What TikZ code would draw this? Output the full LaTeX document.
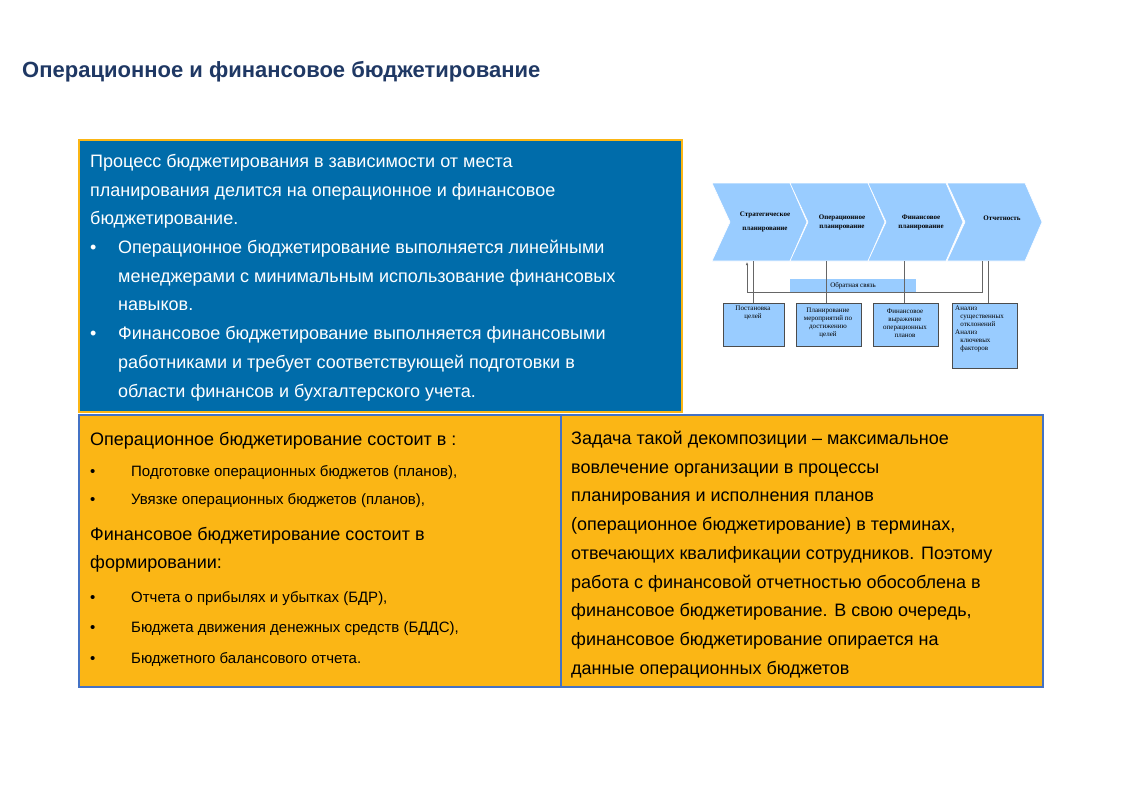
\documentclass[tikz,border=0pt]{standalone}
\usetikzlibrary{arrows.meta}
\usepackage{fontspec}
\setmainfont{Liberation Sans}
\newfontfamily\serifsm{Liberation Serif}
\definecolor{bluebox}{RGB}{0,108,170}
\definecolor{orangebox}{RGB}{251,182,21}
\definecolor{titleblue}{RGB}{31,56,100}
\definecolor{bordblue}{RGB}{68,114,196}
\definecolor{chev}{RGB}{153,204,255}
\tikzset{
  ln/.style={anchor=base west, inner sep=0pt, font=\fontsize{18}{20}\selectfont},
  lnw/.style={ln, text=white},
  sm/.style={anchor=base west, inner sep=0pt, font=\fontsize{15}{17}\selectfont},
  chevron/.style={fill=chev, draw=white, line width=0.6pt},
  sbox/.style={fill=chev, draw=black!70, line width=0.5pt},
  stxt/.style={font=\serifsm\fontsize{7}{8}\selectfont, align=center, inner sep=0pt},
  ctxt/.style={font=\serifsm\bfseries\fontsize{7}{9}\selectfont, align=center, inner sep=0pt},
  conn/.style={draw=black!60, line width=0.6pt}
}
\begin{document}
\begin{tikzpicture}[x=1pt,y=-1pt]
\useasboundingbox (0,0) rectangle (1122,793);
\fill[white] (0,0) rectangle (1122,793);
\node[anchor=base west, inner sep=0pt, text=titleblue, font=\bfseries\fontsize{22}{24}\selectfont] (title) at (22,77) {Операционное и финансовое бюджетирование};
% boxes
\draw[fill=bluebox, draw=orangebox, line width=1.5pt] (79,140) rectangle (682,412);
\draw[fill=orangebox, draw=bordblue, line width=1.5pt] (79,415) rectangle (561,687);
\draw[fill=orangebox, draw=bordblue, line width=1.5pt] (561,415) rectangle (1043,687);
% blue text
\node[lnw] (b1) at (90,167) {Процесс бюджетирования в зависимости от места};
\node[lnw] (b2) at (90,196) {планирования делится на операционное и финансовое};
\node[lnw] (b3) at (90,224) {бюджетирование.};
\node[lnw] (b4a) at (90,253) {•};
\node[lnw] (b4) at (118,253) {Операционное бюджетирование выполняется линейными};
\node[lnw] (b5) at (118,282) {менеджерами с минимальным использование финансовых};
\node[lnw] (b6) at (118,310) {навыков.};
\node[lnw] (b7a) at (90,339) {•};
\node[lnw] (b7) at (118,339) {Финансовое бюджетирование выполняется финансовыми};
\node[lnw] (b8) at (118,368) {работниками и требует соответствующей подготовки в};
\node[lnw] (b9) at (118,397) {области финансов и бухгалтерского учета.};
% left bottom
\node[ln] (l1) at (90,445) {Операционное бюджетирование состоит в :};
\node[sm] (l2a) at (90,476) {•};
\node[sm] (l2) at (131,476) {Подготовке операционных бюджетов (планов),};
\node[sm] (l3a) at (90,504) {•};
\node[sm] (l3) at (131,504) {Увязке операционных бюджетов (планов),};
\node[ln] (l4) at (90,540) {Финансовое бюджетирование состоит в};
\node[ln] (l5) at (90,568) {формировании:};
\node[sm] (l6a) at (90,602) {•};
\node[sm] (l6) at (131,602) {Отчета о прибылях  и убытках (БДР),};
\node[sm] (l7a) at (90,632) {•};
\node[sm] (l7) at (131,632) {Бюджета движения денежных средств (БДДС),};
\node[sm] (l8a) at (90,663) {•};
\node[sm] (l8) at (131,663) {Бюджетного балансового отчета.};
% right bottom
\node[ln] (r1) at (571,444) {Задача такой декомпозиции – максимальное};
\node[ln] (r2) at (571,473) {вовлечение организации в процессы};
\node[ln] (r3) at (571,501) {планирования и исполнения планов};
\node[ln] (r4) at (571,530) {(операционное бюджетирование) в терминах,};
\node[ln] (r5) at (571,559) {отвечающих квалификации сотрудников. Поэтому};
\node[ln] (r6) at (571,588) {работа с финансовой отчетностью обособлена в};
\node[ln] (r7) at (571,616) {финансовое бюджетирование. В свою очередь,};
\node[ln] (r8) at (571,645) {финансовое бюджетирование опирается на};
\node[ln] (r9) at (571,674) {данные операционных бюджетов};
% small diagram
\foreach \x/\n in {712/c1,790/c2,868/c3,947/c4}{
  \draw[chevron] (\x,183) -- (\x+78,183) -- (\x+95,222) -- (\x+78,261) -- (\x,261) -- (\x+18,222) -- cycle;
}
\node[ctxt] (ct1) at (765,222) {Стратегическое\\[5pt]планирование};
\node[ctxt] (ct2) at (842,222) {Операционное\\планирование};
\node[ctxt] (ct3) at (921,222) {Финансовое\\планирование};
\node[ctxt] (ct4) at (1002,218) {Отчетность};
\draw[sbox] (723,303) rectangle (784,346);
\draw[sbox] (796,303) rectangle (861,346);
\draw[sbox] (873,303) rectangle (938,346);
\draw[sbox] (952,303) rectangle (1017,368);
\node[stxt] (s1) at (753,313) {Постановка\\целей};
\node[stxt] (s2) at (828,323) {Планирование\\мероприятий по\\достижению\\целей};
\node[stxt] (s3) at (905,323) {Финансовое\\выражение\\операционных\\планов};
\node[stxt, align=left, anchor=north west] (s4) at (955,306) {Анализ\\\ \ \ существенных\\\ \ \ отклонений\\Анализ\\\ \ \ ключевых\\\ \ \ факторов};
\coordinate (fbR) at (982,292);
\coordinate (fbL) at (747,292);
\draw[conn] (982,261) -- (fbR) -- (fbL);
\draw[conn,-{Latex[length=3pt,width=2.5pt]}] (fbL) -- (747,262);
\fill[chev] (790,279) rectangle (916,292);
\node[stxt] (fb) at (853,286) {Обратная связь};
\draw[conn] (753,261) -- (753,303);
\draw[conn] (826,261) -- (826,303);
\draw[conn] (904,261) -- (904,303);
\draw[conn] (988,261) -- (988,303);
\end{tikzpicture}
\end{document}
